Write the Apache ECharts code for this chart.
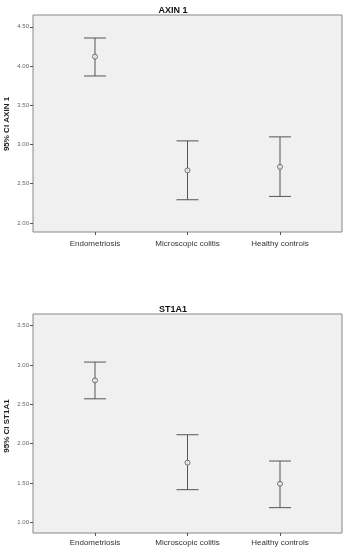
<!DOCTYPE html>
<html><head><meta charset="utf-8">
<script src="https://cdn.jsdelivr.net/npm/echarts@6/dist/echarts.min.js"></script>
<style>html,body{margin:0;padding:0;background:#fff}#c{width:346px;height:550px}</style>
</head><body><div id="c"></div>
<script>
var categories = ['Endometriosis', 'Microscopic colitis', 'Healthy controls'];
var axinMean = [4.12, 2.67, 2.715];
var axinLow = [3.873, 2.296, 2.338];
var axinHigh = [4.357, 3.046, 3.097];
var st1Mean = [2.805, 1.759, 1.49];
var st1Low = [2.571, 1.416, 1.187];
var st1High = [3.038, 2.114, 1.78];
var axinTicks = [2.00, 2.50, 3.00, 3.50, 4.00, 4.50];
var st1Ticks = [1.00, 1.50, 2.00, 2.50, 3.00, 3.50];
var axisNames = ['95% CI AXIN 1', '95% CI ST1A1'];

var chart = echarts.init(document.getElementById('c'));
var fontFam = 'Liberation Sans, Arial, sans-serif';

function xAxis(gi, margin) {
  return {
    type: 'value', gridIndex: gi, min: -0.67, max: 2.67,
    splitLine: {show: false}, axisLine: {show: false, onZero: false},
    axisTick: {show: true, length: 3, customValues: [0, 1, 2], lineStyle: {color: '#555'}},
    axisLabel: {customValues: [0, 1, 2], margin: margin, fontSize: 8, color: '#333', fontFamily: fontFam,
      formatter: function (v) { return categories[Math.round(v)] || ''; }}
  };
}
function yAxis(gi, min, max, ticks) {
  return {
    type: 'value', gridIndex: gi, min: min, max: max,
    splitLine: {show: false}, axisLine: {show: false, onZero: false},
    axisTick: {show: true, length: 3, customValues: ticks, lineStyle: {color: '#555'}},
    axisLabel: {customValues: ticks, margin: 4, fontSize: 6, color: '#666', fontFamily: fontFam,
      formatter: function (v) { return v.toFixed(2); }}
  };
}
function errSeries(gi, low, high) {
  var data = low.map(function (l, i) { return [i, l, high[i]]; });
  return {
    type: 'custom', xAxisIndex: gi, yAxisIndex: gi, data: data,
    renderItem: function (params, api) {
      var p1 = api.coord([api.value(0), api.value(1)]);
      var p2 = api.coord([api.value(0), api.value(2)]);
      var hw = 11;
      var st = {stroke: '#555', lineWidth: 1};
      return {type: 'group', children: [
        {type: 'line', shape: {x1: p1[0], y1: p1[1], x2: p2[0], y2: p2[1]}, style: st},
        {type: 'line', shape: {x1: p1[0] - hw, y1: p1[1], x2: p1[0] + hw, y2: p1[1]}, style: st},
        {type: 'line', shape: {x1: p2[0] - hw, y1: p2[1], x2: p2[0] + hw, y2: p2[1]}, style: st}
      ]};
    }
  };
}
function meanSeries(gi, mean) {
  return {
    type: 'scatter', xAxisIndex: gi, yAxisIndex: gi,
    data: mean.map(function (m, i) { return [i, m]; }),
    symbol: 'circle', symbolSize: 5, z: 5,
    itemStyle: {color: '#f0f0f0', borderColor: '#555', borderWidth: 1}
  };
}
function nameText(text, y) {
  return {type: 'text', x: 7, y: y, rotation: Math.PI / 2,
    style: {text: text, align: 'center', verticalAlign: 'middle', fill: '#222',
      font: 'bold 8px ' + fontFam}};
}

chart.setOption({
  animation: false,
  title: [
    {text: 'AXIN 1', left: 'center', top: 1, textStyle: {fontSize: 9, fontWeight: 'bold', color: '#111', fontFamily: fontFam}},
    {text: 'ST1A1', left: 'center', top: 300, textStyle: {fontSize: 9, fontWeight: 'bold', color: '#111', fontFamily: fontFam}}
  ],
  graphic: [nameText(axisNames[0], 124), nameText(axisNames[1], 426)],
  grid: [
    {left: 33, top: 15, width: 309, height: 217, show: true, backgroundColor: '#f0f0f0', borderColor: '#888', borderWidth: 1, outerBoundsMode: 'none', containLabel: false},
    {left: 33, top: 314, width: 309, height: 219, show: true, backgroundColor: '#f0f0f0', borderColor: '#888', borderWidth: 1, outerBoundsMode: 'none', containLabel: false}
  ],
  xAxis: [xAxis(0, 8), xAxis(1, 6)],
  yAxis: [yAxis(0, 1.885, 4.65, axinTicks), yAxis(1, 0.865, 3.649, st1Ticks)],
  series: [errSeries(0, axinLow, axinHigh), meanSeries(0, axinMean), errSeries(1, st1Low, st1High), meanSeries(1, st1Mean)]
});
</script></body></html>
